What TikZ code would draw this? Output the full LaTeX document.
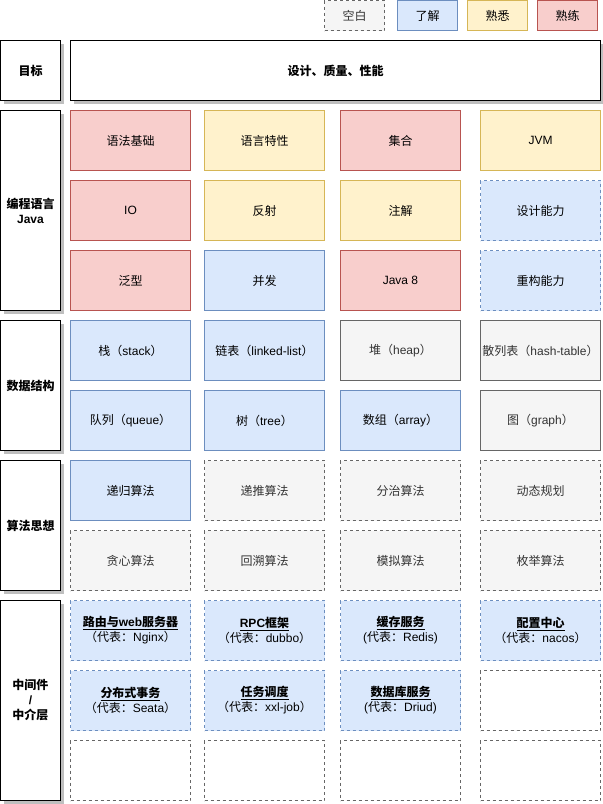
\documentclass[tikz,border=0pt]{standalone}
\usepackage{fontspec}
\setmainfont{Liberation Sans}
\newfontfamily\zh{Noto Sans CJK SC}
\usetikzlibrary{shadows}
\definecolor{redF}{HTML}{F8CECC}\definecolor{redS}{HTML}{B85450}
\definecolor{yelF}{HTML}{FFF2CC}\definecolor{yelS}{HTML}{D6B656}
\definecolor{bluF}{HTML}{DAE8FC}\definecolor{bluS}{HTML}{6C8EBF}
\definecolor{graF}{HTML}{F5F5F5}\definecolor{graS}{HTML}{666666}
\definecolor{graT}{HTML}{333333}
\tikzset{
  base/.style={draw, line width=1pt, minimum width=120pt, minimum height=60pt, inner sep=0pt,
    anchor=north west, align=center, font=\fontsize{12}{15}\selectfont},
  dsh/.style={dash pattern=on 3pt off 3pt},
  cred/.style={base, fill=redF, draw=redS},
  cyel/.style={base, fill=yelF, draw=yelS},
  cblu/.style={base, fill=bluF, draw=bluS},
  cblud/.style={base, fill=bluF, draw=bluS, dsh},
  cgra/.style={base, fill=graF, draw=graS, text=graT},
  cgrad/.style={base, fill=graF, draw=graS, text=graT, dsh},
  cwhd/.style={base, fill=white, draw=graS, dsh},
  leg/.style={base, minimum width=60pt, minimum height=30pt},
  lab/.style={base, fill=white, draw=black, minimum width=60pt,
    font=\fontsize{12}{15}\selectfont\bfseries,
    drop shadow={shadow xshift=3pt, shadow yshift=-3pt, fill=black, opacity=0.25}},
}
\newcommand{\mw}[2]{{\bfseries\underline{#1}}\\#2}
\begin{document}
\begin{tikzpicture}[x=1pt,y=-1pt]
\useasboundingbox (0,0) rectangle (603,804);
% legend
\node[leg, fill=graF, draw=graS, text=graT, dsh] (l0) at (324,0) {\zh 空白};
\node[leg, fill=bluF, draw=bluS] (l1) at (397,0) {\zh 了解};
\node[leg, fill=yelF, draw=yelS] (l2) at (467,0) {\zh 熟悉};
\node[leg, fill=redF, draw=redS] (l3) at (537,0) {\zh 熟练};
% left labels
\node[lab] (goal) at (0,40) {\zh 目标};
\node[lab, minimum width=530pt, font=\fontsize{12}{15}\selectfont\bfseries] (goalbox) at (70,40) {\zh 设计、质量、性能};
\node[lab, minimum height=200pt] (java) at (0,110) {{\zh 编程语言}\\Java};
\node[lab, minimum height=130pt] (ds) at (0,320) {\zh 数据结构};
\node[lab, minimum height=130pt] (alg) at (0,460) {\zh 算法思想};
\node[lab, minimum height=200pt] (mid) at (0,600) {{\zh 中间件}\\/\\{\zh 中介层}};
% Java
\node[cred] (j11) at (70,110) {\zh 语法基础};
\node[cyel] (j12) at (204,110) {\zh 语言特性};
\node[cred] (j13) at (340,110) {\zh 集合};
\node[cyel] (j14) at (480,110) {JVM};
\node[cred] (j21) at (70,180) {IO};
\node[cyel] (j22) at (204,180) {\zh 反射};
\node[cyel] (j23) at (340,180) {\zh 注解};
\node[cblud] (j24) at (480,180) {\zh 设计能力};
\node[cred] (j31) at (70,250) {\zh 泛型};
\node[cblu] (j32) at (204,250) {\zh 并发};
\node[cred] (j33) at (340,250) {Java 8};
\node[cblud] (j34) at (480,250) {\zh 重构能力};
% data structures
\node[cblu] (d11) at (70,320) {{\zh 栈（}stack{\zh ）}};
\node[cblu] (d12) at (204,320) {{\zh 链表（}linked-list{\zh ）}};
\node[cgra] (d13) at (340,320) {{\zh 堆（}heap{\zh ）}};
\node[cgra] (d14) at (480,320) {{\zh 散列表（}hash-table{\zh ）}};
\node[cblu] (d21) at (70,390) {{\zh 队列（}queue{\zh ）}};
\node[cblu] (d22) at (204,390) {{\zh 树（}tree{\zh ）}};
\node[cblu] (d23) at (340,390) {{\zh 数组（}array{\zh ）}};
\node[cgra] (d24) at (480,390) {{\zh 图（}graph{\zh ）}};
% algorithms
\node[cblu] (a11) at (70,460) {\zh 递归算法};
\node[cgrad] (a12) at (204,460) {\zh 递推算法};
\node[cgrad] (a13) at (340,460) {\zh 分治算法};
\node[cgrad] (a14) at (480,460) {\zh 动态规划};
\node[cgrad] (a21) at (70,530) {\zh 贪心算法};
\node[cgrad] (a22) at (204,530) {\zh 回溯算法};
\node[cgrad] (a23) at (340,530) {\zh 模拟算法};
\node[cgrad] (a24) at (480,530) {\zh 枚举算法};
% middleware
\node[cblud] (m11) at (70,600) {\mw{{\zh 路由与}web{\zh 服务器}}{{\zh （代表：}Nginx{\zh ）}}};
\node[cblud] (m12) at (204,600) {\mw{RPC{\zh 框架}}{{\zh （代表：}dubbo{\zh ）}}};
\node[cblud] (m13) at (340,600) {\mw{\zh 缓存服务}{({\zh 代表：}Redis)}};
\node[cblud] (m14) at (480,600) {\mw{\zh 配置中心}{{\zh （代表：}nacos{\zh ）}}};
\node[cblud] (m21) at (70,670) {\mw{\zh 分布式事务}{{\zh （代表：}Seata{\zh ）}}};
\node[cblud] (m22) at (204,670) {\mw{\zh 任务调度}{{\zh （代表：}xxl-job{\zh ）}}};
\node[cblud] (m23) at (340,670) {\mw{\zh 数据库服务}{({\zh 代表：}Driud)}};
\node[cwhd] (m24) at (480,670) {};
\node[cwhd] (m31) at (70,740) {};
\node[cwhd] (m32) at (204,740) {};
\node[cwhd] (m33) at (340,740) {};
\node[cwhd] (m34) at (480,740) {};
\end{tikzpicture}
\end{document}
